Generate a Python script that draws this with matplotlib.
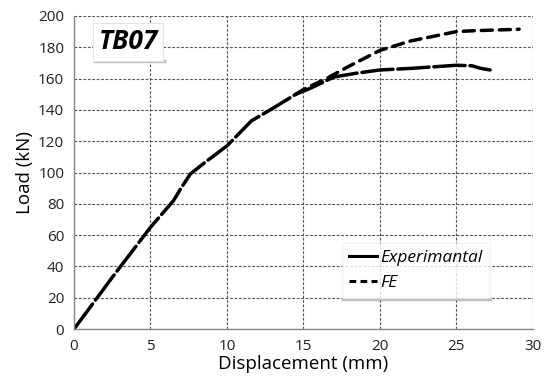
import matplotlib.pyplot as plt
from matplotlib.lines import Line2D

plt.rcParams['font.family'] = ['Open Sans', 'DejaVu Sans']

# load-displacement data (mm, kN)
exp_disp = [0, 2.5, 5.0, 6.5, 7.0, 7.6, 8.5, 10.0, 11.6, 13.0, 14.5, 15.5, 17.0, 18.5, 20.0, 22.0, 25.0, 26.0, 26.6, 27.2]
exp_load = [0, 33, 65, 82, 90, 99, 106, 117, 133, 141, 150, 154, 161, 163.5, 165.5, 166.5, 168.5, 168.2, 166.5, 165.5]
# FE curve coincides with the test curve up to ~14.5 mm
fe_disp = [14.5, 15.0, 16.5, 18.0, 20.0, 22.0, 24.0, 25.0, 26.0, 27.5, 29.1]
fe_load = [150, 153, 160, 168, 178, 184, 188, 190, 190.5, 191, 191.5]

fig = plt.figure(figsize=(5.46, 3.89), dpi=100)
ax = fig.add_axes([0.1355, 0.154, 0.8405, 0.805])

ax.plot(exp_disp, exp_load, color='black', lw=2.5, linestyle=(0, (9, 1.4)),
        dash_capstyle='round')
ax.plot(fe_disp, fe_load, color='black', lw=2.5, linestyle=(0, (3.2, 2.0)),
        dash_capstyle='round')

ax.set_xlim(0, 30)
ax.set_ylim(0, 200)
ax.set_xticks(range(0, 31, 5))
ax.set_yticks(range(0, 201, 20))
ax.grid(True, color='#555555', linestyle=(0, (2.5, 1.5)), linewidth=0.8)
ax.tick_params(length=0, labelsize=11, colors='#222222', pad=7)
for s in ['top', 'right']:
    ax.spines[s].set_visible(False)
for s in ['left', 'bottom']:
    ax.spines[s].set_color('#888888')
    ax.spines[s].set_linewidth(1.0)

ax.set_xlabel('Displacement (mm)', fontsize=13.5, labelpad=1)
ax.set_ylabel('Load (kN)', fontsize=13.5, labelpad=3)

ax.text(3.55, 183.5, 'TB07', fontsize=19, fontweight='bold', style='italic',
        ha='center', va='center',
        bbox=dict(boxstyle='square,pad=0.2', fc='white', ec='#e4e4e4', lw=0.8))
ax.plot([1.4, 5.9], [171.5, 171.5], color='#999999', lw=2.5, alpha=0.6)

handles = [Line2D([], [], color='black', lw=2.2),
           Line2D([], [], color='black', lw=2.2, linestyle=(0, (2.2, 1.4)))]
leg = ax.legend(handles, ['Experimantal', 'FE'], loc='lower left',
                bbox_to_anchor=(0.585, 0.1),
                prop={'style': 'italic', 'size': 12.5},
                handlelength=1.6, handletextpad=0.2, borderpad=0.4,
                labelspacing=0.5, frameon=True, fancybox=False,
                shadow=False, edgecolor='#eeeeee', borderaxespad=0)
leg.get_frame().set_linewidth(0.8)
ax.plot([17.6, 27.2], [19.5, 19.5], color='#999999', lw=2.5, alpha=0.6, zorder=4)

fig.savefig('out.png', dpi=100)
